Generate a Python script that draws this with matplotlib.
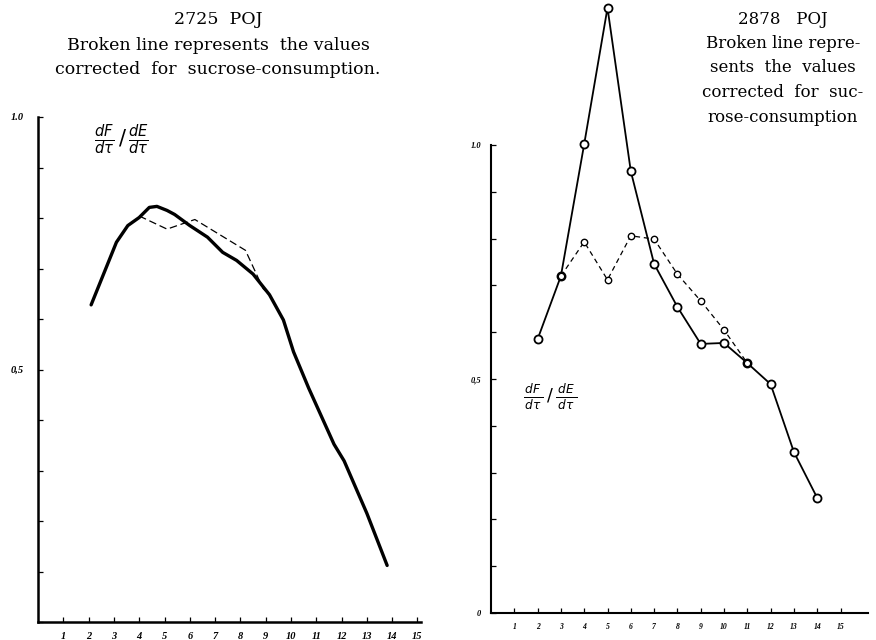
import matplotlib
matplotlib.use("Agg")
import matplotlib.pyplot as plt
import numpy as np

W, H = 876, 640

# ---------------- data ----------------
# Left panel: 2725 POJ (smooth curves)
left_solid_x = [2.1, 3.1, 3.55, 4.0, 4.4, 4.7, 5.1, 5.4, 6.0, 6.7, 7.3, 7.85, 8.5, 9.15, 9.7, 10.1, 10.7, 11.7, 12.1, 13.0, 13.8]
left_solid_y = [0.628, 0.752, 0.785, 0.801, 0.821, 0.823, 0.815, 0.807, 0.785, 0.762, 0.732, 0.716, 0.689, 0.648, 0.598, 0.535, 0.463, 0.352, 0.319, 0.215, 0.112]
left_dash_x = [4.0, 5.1, 6.2, 8.2, 8.9, 9.15]
left_dash_y = [0.804, 0.778, 0.797, 0.736, 0.660, 0.648]

# Right panel: 2878 POJ
right_solid_x = [2, 3, 4, 5, 6, 7, 8, 9, 10, 11, 12, 13, 14]
right_solid_y = [0.585, 0.720, 1.002, 1.293, 0.944, 0.746, 0.654, 0.575, 0.577, 0.534, 0.489, 0.344, 0.246]
right_dash_x = [3, 4, 5, 6, 7, 8, 9, 10, 11]
right_dash_y = [0.720, 0.793, 0.712, 0.806, 0.799, 0.724, 0.667, 0.605, 0.534]

x_ticks = list(range(1, 16))
x_tick_labels = [str(v) for v in x_ticks]
y_ticks = [round(0.1 * i, 1) for i in range(0, 11)]
left_y_labels = ["", "", "", "", "", "0,5", "", "", "", "", "1.0"]
right_y_labels = ["0", "", "", "", "", "0,5", "", "", "", "", "1.0"]

left_title = ["2725  POJ", "Broken line represents  the values", "corrected  for  sucrose-consumption."]
right_title = ["2878   POJ", "Broken line repre-", "sents  the  values", "corrected  for  suc-", "rose-consumption"]
ratio_label = r"$\frac{dF}{d\tau}\,/\,\frac{dE}{d\tau}$"
ratio_label_wide = r"$\frac{\,dF\,}{\,d\tau\,}\,/\,\frac{\,dE\,}{\,d\tau\,}$"

# ---------------- layout helpers ----------------
fig = plt.figure(figsize=(W / 100, H / 100), dpi=100)
fig.patch.set_facecolor("white")


def box(x0, x1, ytop, ybot):
    return [x0 / W, 1 - ybot / H, (x1 - x0) / W, (ybot - ytop) / H]


def px(x, y):
    return x / W, 1 - y / H

serif = ["DejaVu Serif", "Liberation Serif"]
tickserif = ["Liberation Serif", "DejaVu Serif"]

# ---------------- left panel ----------------
lx0, lsx = 38, 25.3
ly0, lsy = 622, 505
lxmax = 15.15
ax1 = fig.add_axes(box(lx0, lx0 + lxmax * lsx, ly0 - 1.0 * lsy, ly0))
ax1.set_xlim(0, lxmax)
ax1.set_ylim(0, 1.0)
ax1.plot(left_solid_x, left_solid_y, color="black", lw=2.4, solid_capstyle="round",
         solid_joinstyle="round", clip_on=False)
ax1.plot(left_dash_x, left_dash_y, color="black", lw=0.9, dashes=(6, 3), clip_on=False)

# ---------------- right panel ----------------
rx0, rsx = 491, 23.3
ry0, rsy = 613, 468
rxmax = 16.2
rymax = 1.32
ax2 = fig.add_axes(box(rx0, rx0 + rxmax * rsx, ry0 - rymax * rsy, ry0))
ax2.set_xlim(0, rxmax)
ax2.set_ylim(0, rymax)
ax2.plot(right_solid_x, right_solid_y, color="black", lw=1.3, marker="o", ms=5.8,
         mfc="white", mec="black", mew=1.3, clip_on=False, zorder=3)
ax2.plot(right_dash_x, right_dash_y, color="black", lw=0.9, dashes=(4, 3), marker="o",
         ms=4.6, mfc="white", mec="black", mew=1.0, clip_on=False, zorder=4)
ax2.spines["left"].set_bounds(0, 1.0)

for ax, ylabels, lw in ((ax1, left_y_labels, 1.8), (ax2, right_y_labels, 1.5)):
    for s in ("top", "right"):
        ax.spines[s].set_visible(False)
    ax.spines["left"].set_linewidth(lw)
    ax.spines["bottom"].set_linewidth(lw)
    ax.set_facecolor("none")
    ax.set_xticks(x_ticks)
    ax.set_xticklabels(x_tick_labels)
    ax.set_yticks(y_ticks)
    ax.set_yticklabels(ylabels)
    ax.tick_params(axis="both", direction="in", length=3.5, width=0.9, colors="black")
    ax.tick_params(axis="x", pad=7)
    ax.tick_params(axis="y", pad=10)
    for lab in ax.get_xticklabels() + ax.get_yticklabels():
        lab.set_fontstyle("italic")
        lab.set_fontweight("bold")
        lab.set_family(tickserif)

for lab in ax1.get_xticklabels():
    lab.set_fontsize(7.5)
for lab in ax1.get_yticklabels():
    lab.set_fontsize(7.5)
for lab in ax2.get_xticklabels():
    lab.set_fontsize(5.5)
for lab in ax2.get_yticklabels():
    lab.set_fontsize(6)
ax2.tick_params(axis="y", pad=7)

# ---------------- texts ----------------
for i, line in enumerate(left_title):
    fig.text(*px(218, 20 + i * 25), line, ha="center", va="center",
             fontsize=12.5, family=serif)
for i, line in enumerate(right_title):
    fig.text(*px(783, 19 + i * 24.5), line, ha="center", va="center",
             fontsize=12, family=serif)

fig.text(*px(121, 140), ratio_label, ha="center", va="center", fontsize=15)
fig.text(*px(550, 397), ratio_label_wide, ha="center", va="center", fontsize=12.5)

fig.savefig("out.png", dpi=100, facecolor="white")
